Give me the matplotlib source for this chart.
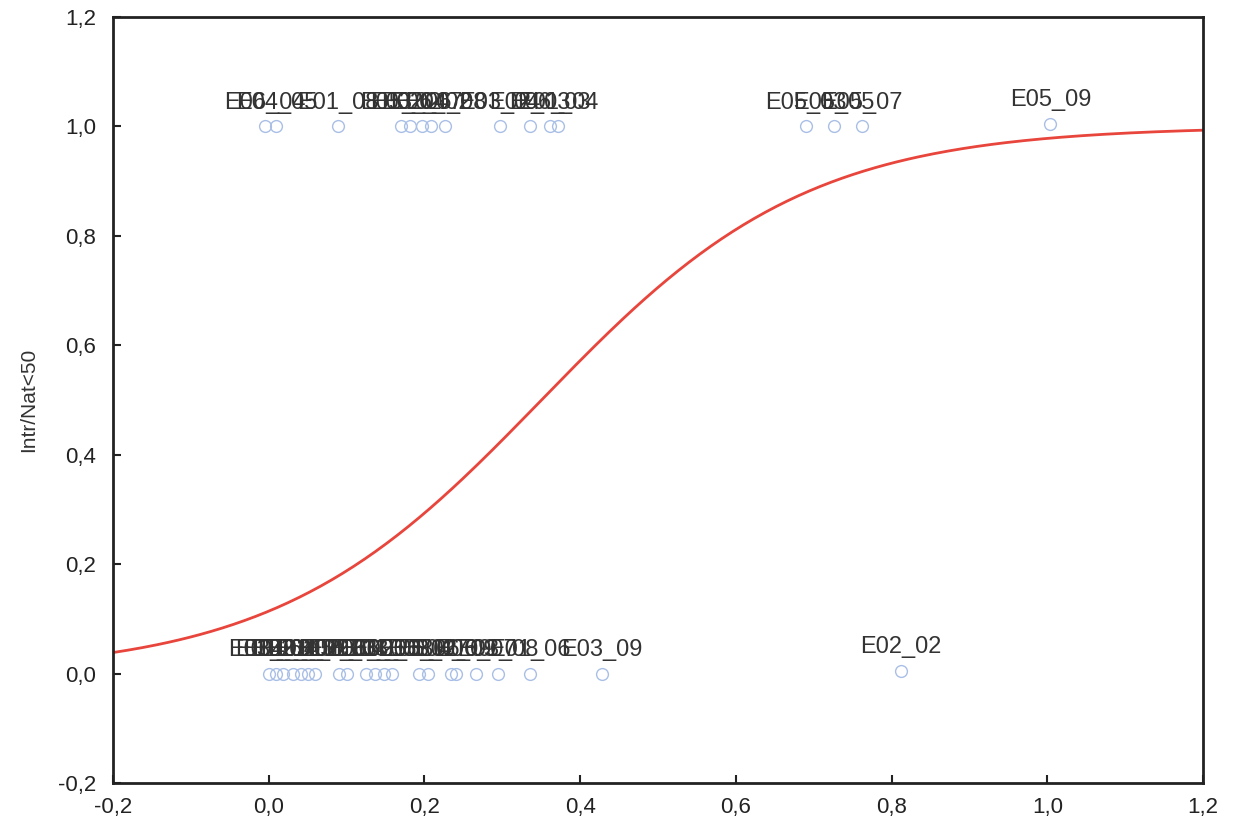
import numpy as np
import matplotlib.pyplot as plt
from matplotlib.ticker import FuncFormatter

# observations with Intr/Nat<50 = 1
top_x = [-0.005, 0.010, 0.089, 0.170, 0.182, 0.197, 0.208, 0.227,
         0.297, 0.336, 0.361, 0.371, 0.690, 0.726, 0.762, 1.004]
top_y = [1.0] * 15 + [1.005]
top_names = ["E06_04", "E04_05", "E01_08", "E05_02", "E03_06", "E02_07",
             "E06_02", "E04_08", "E03_04", "E02_03", "E06_03", "E01_04",
             "E05_03", "E05_05", "E05_07", "E05_09"]

# observations with Intr/Nat<50 = 0
bot_x = [0.000, 0.009, 0.019, 0.031, 0.041, 0.051, 0.060, 0.090, 0.101,
         0.125, 0.137, 0.148, 0.159, 0.193, 0.205, 0.234, 0.240, 0.266,
         0.294, 0.336, 0.428, 0.812]
bot_y = [0.0] * 21 + [0.005]
bot_names = ["E03_01", "E01_02", "E04_01", "E02_05", "E06_01", "E03_02",
             "E04_03", "E02_06", "E01_03", "E06_05", "E03_05", "E04_06",
             "E02_08", "E06_06", "E03_07", "E04_09", "E02_09", "E06_07",
             "E03_08", "E01_06", "E03_09", "E02_02"]

# fitted logistic model
b0 = -2.05
b1 = 5.85

plt.rcParams['font.family'] = ['Liberation Sans', 'DejaVu Sans']

fig = plt.figure(figsize=(12.36, 8.25), dpi=100)
ax = fig.add_axes([0.0914, 0.0509, 0.8819, 0.9285])

xs = np.linspace(-0.2, 1.2, 300)
ax.plot(xs, 1 / (1 + np.exp(-(b0 + b1 * xs))), color='#e8453c', lw=2)

px = top_x + bot_x
py = top_y + bot_y
names = top_names + bot_names
ax.plot(px, py, 'o', ms=8.5, mfc='none', mec='#a9bfe6', mew=1.0)
for x, y, n in zip(px, py, names):
    ax.text(x, y + 0.043, n, ha='center', va='center', fontsize=17,
            color='#333333')

ax.set_xlim(-0.2, 1.2)
ax.set_ylim(-0.2, 1.2)
ax.set_xticks(np.arange(-0.2, 1.21, 0.2))
ax.set_yticks(np.arange(-0.2, 1.21, 0.2))
comma = FuncFormatter(lambda v, p: f"{v:.1f}".replace('.', ',').replace('-0,0', '0,0'))
ax.xaxis.set_major_formatter(comma)
ax.yaxis.set_major_formatter(comma)
ax.tick_params(direction='in', length=6, width=1.5, labelsize=16,
               colors='#222222', top=False, right=False)
ax.tick_params(axis='x', pad=10)
ax.tick_params(axis='y', pad=12)
for s in ax.spines.values():
    s.set_linewidth(2)
    s.set_color('#222222')
ax.set_ylabel('Intr/Nat<50', fontsize=15, color='#333333', labelpad=14)

fig.savefig('out.png', dpi=100)
plt.close()
